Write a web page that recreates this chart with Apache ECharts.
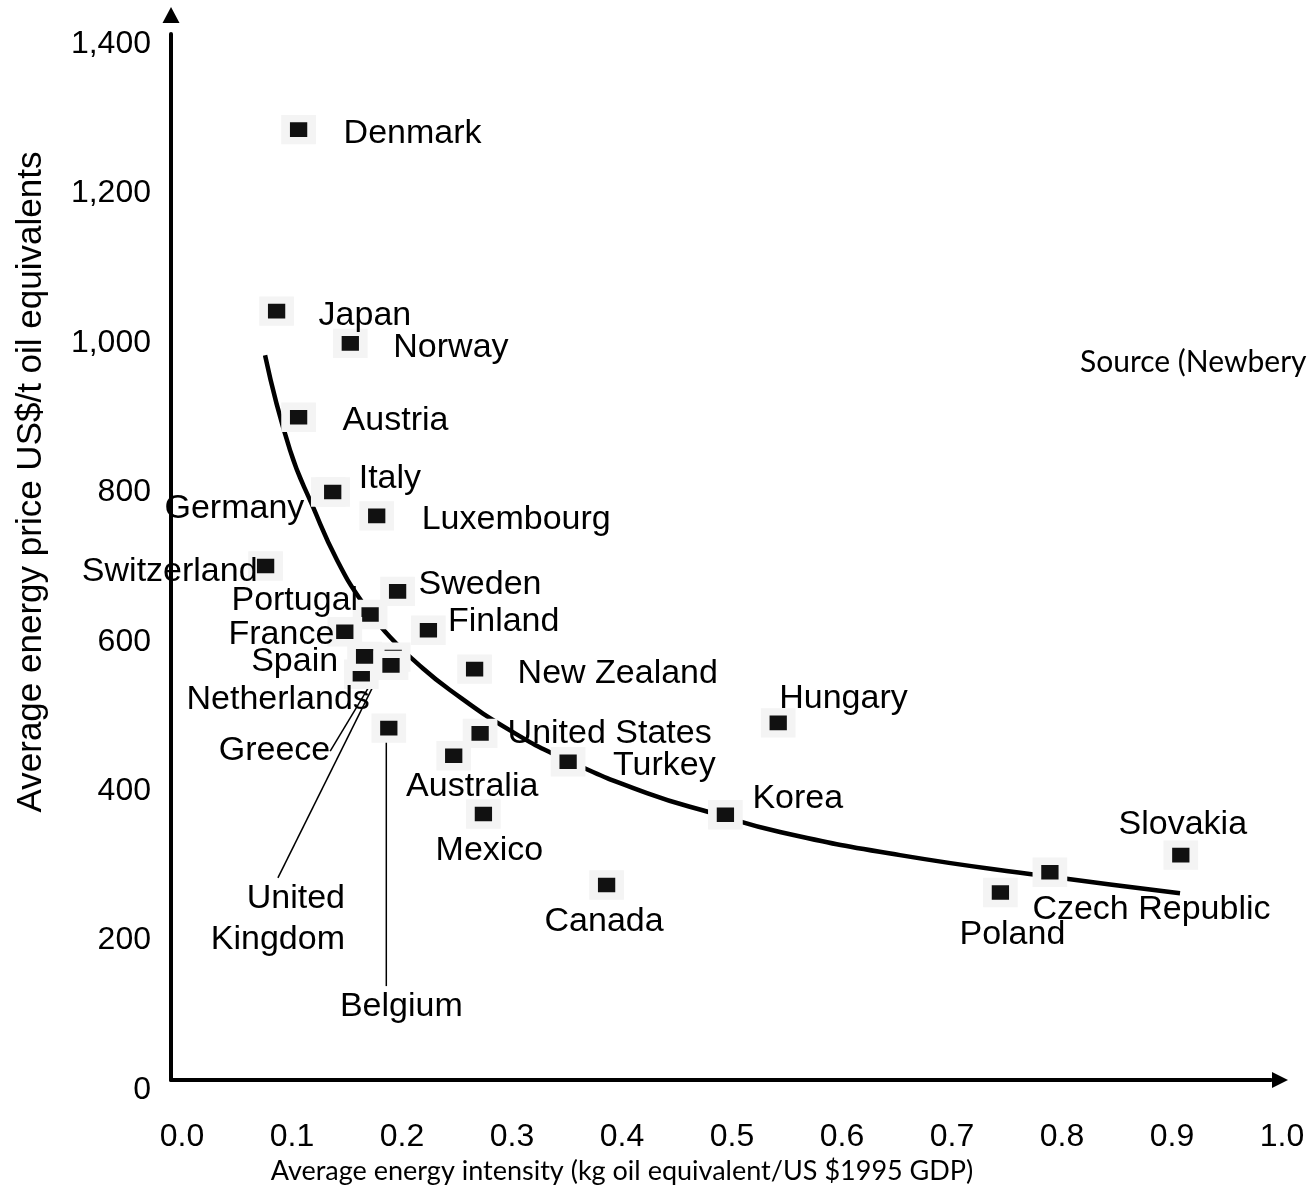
<!DOCTYPE html>
<html><head><meta charset="utf-8">
<script src="https://cdn.jsdelivr.net/npm/echarts@6/dist/echarts.min.js"></script>
<style>html,body{margin:0;padding:0;background:#fff}#c{width:1313px;height:1187px}</style>
</head><body><div id="c"></div>
<script>
// ---- data ----
const countries = ['Denmark','Japan','Norway','Austria','Germany','Italy','Luxembourg','Switzerland','Sweden','Netherlands','Spain','Portugal','France','Finland','Greece','United Kingdom','Belgium','New Zealand','United States','Australia','Turkey','Mexico','Canada','Hungary','Korea','Slovakia','Czech Republic','Poland'];
const intensity = [0.116,0.096,0.163,0.116,0.143,0.147,0.187,0.086,0.206,0.173,0.176,0.181,0.158,0.234,0.202,0.200,0.198,0.276,0.281,0.257,0.361,0.284,0.396,0.552,0.504,0.918,0.799,0.754];
const price     = [1272,1029,986,887,787,787,755,688,654,543,567,623,600,602,566,555,471,550,464,434,426,356,261,478,355,301,278,251];
const fitIntensity = [0.0855,0.1082,0.1291,0.1509,0.1745,0.1991,0.2236,0.2536,0.3082,0.36,0.4327,0.4927,0.5536,0.6627,0.79,0.9173];
const fitPrice     = [970,843,767,696,638,593,558,522,468,428,384,357,332,301,274,250];
const xTickValues = [0,0.1,0.2,0.3,0.4,0.5,0.6,0.7,0.8,0.9,1.0];
const yTickValues = [0,200,400,600,800,1000,1200,1400];
const xTitle = 'Average energy intensity (kg oil equivalent/US $1995 GDP)';
const yTitle = 'Average energy price US$/t oil equivalents';
const sourceNote = 'Source (Newbery';

// ---- label placement (style, not data): [align, dx, dy, leaderLine, padding] ----
const placement = {
  'Denmark':[ 'left',45,3.5], 'Japan':['left',42,4], 'Norway':['left',43,4.5], 'Austria':['left',44,3.5],
  'Germany':['right',-24,16.5], 'Italy':['left',26,-13.5], 'Luxembourg':['left',45,4], 'Switzerland':['right',-8,6],
  'Sweden':['left',21,-6.5], 'Netherlands':['right',8.5,25], 'Spain':['right',-26.5,5.5], 'Portugal':['right',-12,-13.5],
  'France':['right',-10.5,3], 'Finland':['left',19.5,-9], 'Greece':['right',-63,94,true], 'United Kingdom':['right',-46,253.5,true],
  'Belgium':['center',-2.5,278.5,true,[0,0,0,30]], 'New Zealand':['left',43,4.5], 'United States':['left',27.5,0], 'Australia':['center',18.5,30.5],
  'Turkey':['left',45,4], 'Mexico':['center',6,37], 'Canada':['center',-2.5,36.5], 'Hungary':['left',1,-24],
  'Korea':['left',27,-16], 'Slovakia':['center',2,-30], 'Czech Republic':['left',-17.5,37], 'Poland':['center',12,42.5]
};

const pointData = countries.map((name, i) => {
  const p = placement[name];
  const item = { name, value: [intensity[i], price[i]], label: { align: p[0], offset: [p[1], p[2]] } };
  if (p[4]) item.label.padding = p[4];
  if (p[3]) item.labelLine = { show: true, lineStyle: { color: '#000', width: 1.5, opacity: 1 } };
  return item;
});
const curveData = fitIntensity.map((x, i) => [x, fitPrice[i]]);

const chart = echarts.init(document.getElementById('c'), null, { renderer: 'canvas' });
chart.setOption({
  backgroundColor: '#fff',
  animation: false,
  grid: { left: 171, right: 42, top: 34, bottom: 107, containLabel: false, outerBoundsMode: 'none' },
  xAxis: {
    type: 'value', min: 0, max: 1, interval: 0.1,
    axisLine: { show: true, onZero: false, symbol: ['none', 'triangle'], symbolSize: [16, 16], symbolOffset: [0, 9], lineStyle: { color: '#000', width: 4 } },
    axisTick: { show: false }, splitLine: { show: false },
    axisLabel: { formatter: v => v.toFixed(1), fontSize: 32, fontFamily: 'Liberation Sans, Arial, sans-serif', color: '#000', margin: 41, padding: [0, 0, 0, 22], lineHeight: 32, showMaxLabel: true, showMinLabel: true }
  },
  yAxis: {
    type: 'value', min: 0, max: 1400, interval: 200,
    axisLine: { show: true, onZero: false, symbol: ['none', 'triangle'], symbolSize: [17, 16], symbolOffset: [0, 19], lineStyle: { color: '#000', width: 4 } },
    axisTick: { show: false }, splitLine: { show: false },
    axisLabel: { formatter: v => v.toLocaleString('en-US'), fontSize: 32, fontFamily: 'Liberation Sans, Arial, sans-serif', color: '#000', margin: 20, verticalAlign: 'top', lineHeight: 20 }
  },
  graphic: [
    { type: 'text', x: 31, y: 482, rotation: Math.PI / 2, silent: true,
      style: { text: yTitle, fontSize: 35, fontFamily: 'Liberation Sans, Arial, sans-serif', fill: '#000', textAlign: 'center', textVerticalAlign: 'middle', align: 'center', verticalAlign: 'middle' } },
    { type: 'text', x: 622, y: 1171, silent: true,
      style: { text: xTitle, fontSize: 27, fontFamily: 'Lato, sans-serif', fill: '#000', textAlign: 'center', textVerticalAlign: 'middle', align: 'center', verticalAlign: 'middle' } },
    { type: 'text', x: 1080, y: 362, silent: true,
      style: { text: sourceNote, fontSize: 30, fontFamily: 'Lato, sans-serif', fill: '#000', textAlign: 'left', textVerticalAlign: 'middle', align: 'left', verticalAlign: 'middle' } }
  ],
  series: [
    { type: 'line', data: curveData, smooth: true, showSymbol: false, silent: true, z: 2,
      lineStyle: { color: '#000', width: 4.5 }, emphasis: { disabled: true } },
    { type: 'scatter', data: pointData, symbol: 'rect', symbolSize: [26, 22], z: 3, silent: true,
      itemStyle: { color: '#111', borderColor: '#f4f4f4', borderWidth: 8, opacity: 1 },
      label: { show: true, position: 'inside', verticalAlign: 'middle', color: '#000', fontSize: 34, fontFamily: 'Liberation Sans, Arial, sans-serif', lineHeight: 41, textBorderWidth: 0, opacity: 1,
        formatter: p => p.name === 'United Kingdom' ? 'United\nKingdom' : p.name },
      labelLine: { show: false, lineStyle: { color: '#000', width: 1.5 } },
      emphasis: { disabled: true } }
  ]
});
</script></body></html>
